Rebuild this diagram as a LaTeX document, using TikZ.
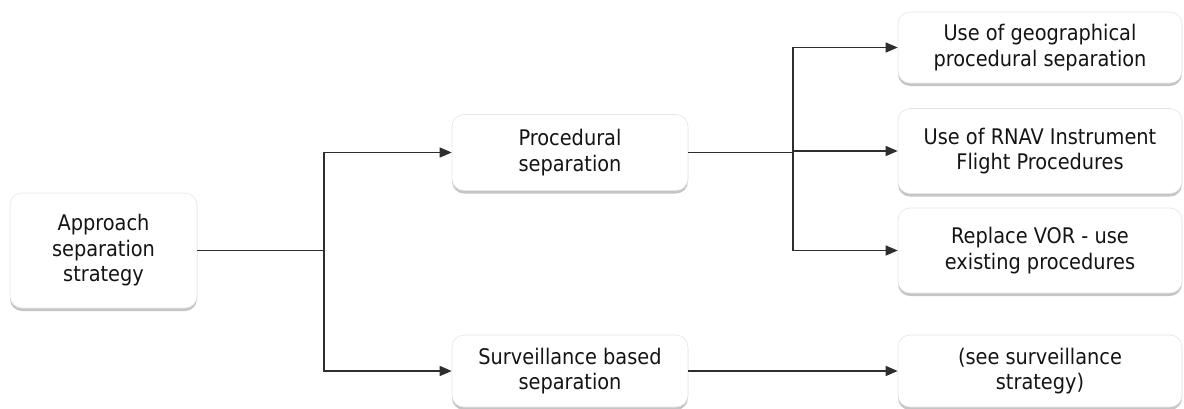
\documentclass[tikz,border=0pt]{standalone}
\usepackage{fontspec}
\setmainfont{DejaVu Sans Condensed}
\usetikzlibrary{arrows.meta,shadows}
\begin{document}
\begin{tikzpicture}[x=1pt,y=-1pt,
  box/.style={draw=black!10, line width=0.6pt, fill=white, rounded corners=12pt,
    align=center, text=black!92, font=\fontsize{21.5}{25.5}\selectfont, inner sep=0pt,
    drop shadow={shadow xshift=0pt, shadow yshift=-3pt, opacity=0.35, fill=black!65}},
  link/.style={draw=black!82, line width=1.4pt},
  tip/.style={link, -{Triangle[length=12pt,width=10pt]}}]
\useasboundingbox (0,0) rectangle (1184,408);

% left column
\node[box, minimum width=187pt, minimum height=115pt] (app) at (103.5,250.5)
  {Approach\\separation\\strategy};

% middle column
\node[box, minimum width=236pt, minimum height=76pt] (proc) at (570,152.5)
  {Procedural\\separation};
\node[box, minimum width=236pt, minimum height=72pt] (surv) at (570,371)
  {Surveillance based\\separation};

% right column
\node[box, minimum width=284pt, minimum height=71pt] (geo) at (1040,47.5)
  {Use of geographical\\procedural separation};
\node[box, minimum width=284pt, minimum height=85pt] (rnav) at (1040,151)
  {Use of RNAV Instrument\\Flight Procedures};
\node[box, minimum width=284pt, minimum height=85pt] (vor) at (1040,250.5)
  {Replace VOR - use\\existing procedures};
\node[box, minimum width=284pt, minimum height=72pt] (see) at (1040,371)
  {(see surveillance\\strategy)};

% branch positions
\coordinate (trunk) at (324,0);
\coordinate (fork) at (793,0);

% connectors
\draw[link] (app.east) -- (app.east -| trunk);
\draw[tip] (app.east -| trunk) |- (proc.west);
\draw[tip] (app.east -| trunk) |- (surv.west);

\draw[link] (proc.east) -- (proc.east -| fork);
\draw[tip] (proc.east -| fork) |- (geo.west);
\draw[tip] (proc.east -| fork) |- (rnav.west);
\draw[tip] (proc.east -| fork) |- (vor.west);

\draw[tip] (surv.east) -- (see.west);
\end{tikzpicture}
\end{document}
